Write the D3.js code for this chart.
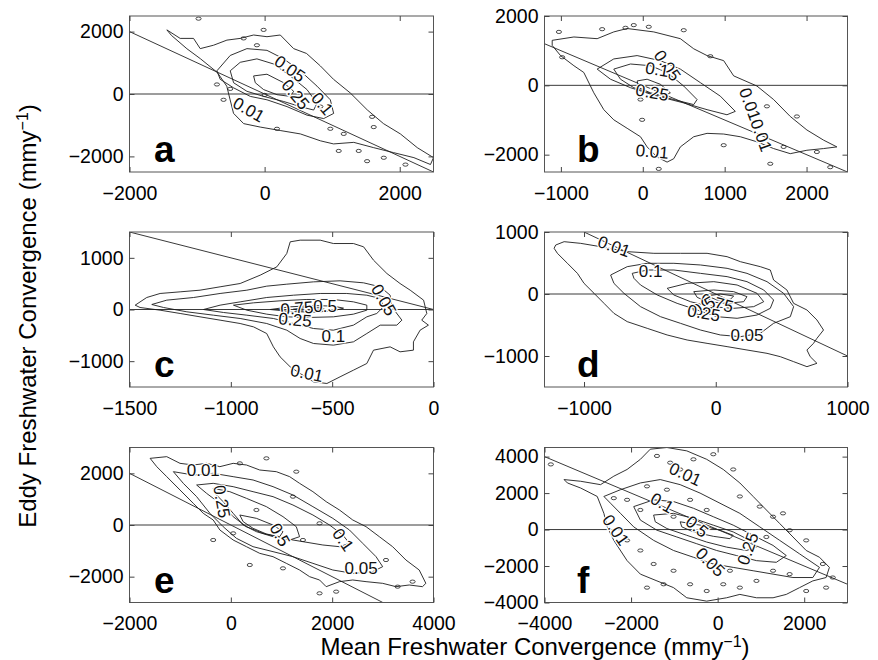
<html>
<head>
<meta charset="utf-8">
<script src="https://d3js.org/d3.v7.min.js"></script>
<style>
  body { margin: 0; background: #fff; }
  svg { font-family: "Liberation Sans", Arial, Helvetica, sans-serif; }
  .contour { fill: none; stroke: #1c1c1c; stroke-width: 0.9; }
  .speck { fill: none; stroke: #1c1c1c; stroke-width: 0.8; }
  .refline { stroke: #3a3a3a; stroke-width: 1; }
  .box { fill: none; stroke: #555; stroke-width: 1; }
  .clabel { font-size: 17px; fill: #111; stroke: #fff; stroke-width: 2.5px; paint-order: stroke; }
  .letter { font-size: 37px; font-weight: bold; fill: #000; }
  .axis text { font-size: 19.5px; fill: #000; font-family: "Liberation Sans", Arial, Helvetica, sans-serif; }
  .axis line { stroke: #444; }
  .title { font-size: 24px; fill: #000; }
</style>
</head>
<body>
<div id="chart"></div>
<script>
// ---- axis ranges and ticks (from the figure) ----
var xDomA = [-2000, 2500], yDomA = [-2500, 2500];
var xDomB = [-1200, 2500], yDomB = [-2500, 2000];
var xDomC = [-1500, 0],    yDomC = [-1500, 1500];
var xDomD = [-1300, 1000], yDomD = [-1500, 1000];
var xDomE = [-2000, 4000], yDomE = [-3000, 3000];
var xDomF = [-4000, 3000], yDomF = [-4000, 4500];

var xTicksA = [-2000, 0, 2000],            yTicksA = [-2000, 0, 2000];
var xTicksB = [-1000, 0, 1000, 2000],      yTicksB = [-2000, 0, 2000];
var xTicksC = [-1500, -1000, -500, 0],     yTicksC = [-1000, 0, 1000];
var xTicksD = [-1000, 0, 1000],            yTicksD = [-1000, 0, 1000];
var xTicksE = [-2000, 0, 2000, 4000],      yTicksE = [-2000, 0, 2000];
var xTicksF = [-4000, -2000, 0, 2000],     yTicksF = [-4000, -2000, 0, 2000, 4000];

// ---- contour rings (mean, eddy) in mm/y ----
var contoursA = [
  {level: "0.01", pts: [[-1447,2055],[-1250,1782],[-1052,1782],[-953,1454],[-756,1563],[-558,1727],[-361,1782],[-163,1891],[35,1836],[232,1891],[430,1454],[620,1300],[825,900],[1020,470],[1270,30],[1520,-510],[1760,-950],[2010,-1280],[2260,-1720],[2500,-2040],[2455,-2260],[2210,-2040],[1910,-1880],[1615,-1720],[1320,-1550],[1020,-1600],[825,-1500],[530,-1280],[230,-1170],[-65,-1060],[-310,-950],[-460,-620],[-510,-190],[-560,250],[-700,690],[-950,1130],[-1150,1450],[-1380,1880]]},
  {level: "0.05", pts: [[-706,743],[-509,1235],[-262,1454],[35,1399],[282,1126],[528,743],[776,251],[973,-186],[1022,-623],[874,-787],[627,-678],[331,-404],[35,-186],[-212,-77],[-459,197],[-657,470]]},
  {level: "0.1",  pts: [[-509,743],[-361,1016],[-114,1126],[133,962],[380,579],[627,142],[776,-295],[726,-514],[528,-404],[282,-240],[-15,-77],[-262,87],[-459,361]]},
  {level: "0.25", pts: [[-163,579],[35,634],[282,361],[430,87],[380,-77],[183,-22],[-15,142],[-138,361]]}
];
var contoursB = [
  {level: "0.01", pts: [[-1106,1298],[-841,1395],[-557,1346],[-354,1541],[-191,1639],[134,1541],[459,1346],[622,1054],[785,858],[988,712],[1110,273],[1394,-20],[1598,-410],[1801,-898],[2004,-1288],[2207,-1580],[2370,-1776],[2207,-1824],[2004,-1873],[1801,-1971],[1598,-1824],[1394,-1629],[1191,-1483],[988,-1405],[785,-1385],[622,-1483],[459,-1776],[378,-2117],[297,-2215],[175,-2068],[53,-1776],[-28,-1483],[-191,-1239],[-354,-995],[-476,-702],[-598,-215],[-720,371],[-841,566],[-1004,858],[-1106,1151]]},
  {level: "0.05", pts: [[-557,468],[-354,761],[-69,858],[215,712],[459,468],[703,78],[947,-312],[1130,-751],[1028,-849],[785,-702],[500,-507],[175,-312],[-150,-68],[-394,176]]},
  {level: "0.1",  pts: [[-354,468],[-150,615],[93,566],[297,371],[500,-20],[663,-410],[622,-556],[378,-410],[134,-263],[-110,-68],[-272,176]]},
  {level: "0.25", pts: [[-69,127],[53,176],[215,29],[337,-215],[256,-312],[93,-215],[-49,-68]]}
];
var contoursC = [
  {level: "0.01", pts: [[-1472,84],[-1415,232],[-1349,310],[-1250,342],[-1152,374],[-1053,439],[-954,503],[-855,665],[-773,826],[-724,1084],[-707,1310],[-658,1342],[-559,1342],[-494,1277],[-395,1277],[-345,1213],[-296,955],[-230,697],[-165,503],[-115,374],[-49,181],[-33,-77],[-58,-206],[-25,-303],[-66,-400],[-99,-626],[-99,-787],[-165,-819],[-214,-723],[-296,-787],[-329,-1045],[-395,-1174],[-461,-1303],[-526,-1432],[-592,-1400],[-658,-1239],[-707,-1110],[-757,-916],[-790,-723],[-823,-465],[-888,-336],[-954,-271],[-1053,-206],[-1152,-142],[-1250,-77],[-1349,-13],[-1448,39]]},
  {level: "0.05", pts: [[-1390,97],[-1316,181],[-1184,232],[-1053,310],[-921,374],[-823,452],[-724,490],[-592,535],[-461,555],[-345,516],[-263,439],[-214,277],[-206,52],[-156,-206],[-181,-303],[-263,-303],[-329,-465],[-395,-626],[-494,-690],[-592,-658],[-658,-561],[-724,-400],[-823,-271],[-954,-174],[-1086,-110],[-1217,-45],[-1332,39]]},
  {level: "0.1",  pts: [[-1135,0],[-1053,84],[-954,148],[-823,232],[-691,277],[-559,310],[-428,310],[-329,277],[-263,213],[-247,52],[-280,-77],[-329,-142],[-395,-303],[-494,-400],[-592,-368],[-691,-271],[-790,-174],[-921,-110],[-1036,-58]]},
  {level: "0.25", pts: [[-987,84],[-888,129],[-757,168],[-625,194],[-494,194],[-395,148],[-329,84],[-329,-13],[-395,-90],[-494,-142],[-625,-155],[-724,-142],[-823,-90],[-921,-13]]},
  {level: "0.5",  pts: [[-806,0],[-707,52],[-592,77],[-494,65],[-444,26],[-494,-26],[-592,-52],[-707,-39]]},
  {level: "0.75", pts: [[-691,6],[-625,39],[-559,32],[-535,0],[-576,-26],[-658,-26]]}
];
var contoursD = [
  {level: "0.01", pts: [[-1215,790],[-1151,844],[-1025,817],[-874,763],[-672,683],[-470,656],[-268,656],[-66,656],[86,602],[187,521],[338,441],[414,387],[439,226],[540,65],[591,-151],[692,-258],[768,-419],[818,-581],[768,-715],[742,-796],[692,-903],[717,-1011],[768,-1118],[692,-1172],[591,-1091],[490,-1011],[389,-957],[237,-903],[86,-849],[-66,-796],[-217,-742],[-369,-661],[-520,-554],[-672,-446],[-773,-312],[-848,-151],[-924,11],[-1000,172],[-1050,333],[-1126,495],[-1202,656],[-1227,737]]},
  {level: "0.05", pts: [[-798,306],[-672,441],[-520,495],[-318,495],[-116,468],[86,414],[237,333],[389,199],[515,11],[591,-204],[566,-366],[439,-473],[338,-634],[187,-688],[35,-661],[-116,-581],[-268,-473],[-419,-366],[-571,-204],[-697,11],[-773,172]]},
  {level: "0.1",  pts: [[-634,333],[-520,387],[-318,387],[-116,333],[86,280],[237,199],[364,65],[439,-97],[414,-231],[313,-339],[162,-392],[10,-366],[-141,-258],[-293,-151],[-444,-16],[-571,145],[-621,253]]},
  {level: "0.25", pts: [[-369,91],[-217,172],[-15,199],[162,145],[313,11],[364,-124],[288,-204],[136,-231],[-40,-204],[-192,-124],[-318,-16]]},
  {level: "0.5",  pts: [[-167,38],[-15,65],[136,38],[237,-43],[212,-124],[86,-151],[-66,-124],[-141,-54]]},
  {level: "0.75", pts: [[-66,-32],[35,0],[136,-32],[111,-86],[10,-97]]}
];
var contoursE = [
  {level: "0.01", pts: [[-1593,2580],[-1265,2645],[-1003,2387],[-741,2322],[-479,2387],[-216,2258],[46,2387],[308,2322],[570,2129],[898,2064],[1161,1871],[1357,1613],[1620,1290],[1882,903],[2144,581],[2406,194],[2669,-65],[2931,-452],[3193,-839],[3456,-1355],[3718,-1742],[3849,-2258],[3783,-2387],[3521,-2322],[3259,-2387],[2997,-2258],[2669,-2193],[2406,-2129],[2144,-2193],[1882,-2387],[1751,-2129],[1554,-2000],[1357,-1742],[1095,-1484],[833,-1226],[570,-1097],[308,-839],[46,-581],[-216,-194],[-348,194],[-544,452],[-741,839],[-1003,1355],[-1265,1871],[-1462,2258]]},
  {level: "0.05", pts: [[-1134,2064],[-741,1935],[-348,2000],[46,1871],[439,1742],[833,1484],[1226,1161],[1620,710],[2013,258],[2341,-194],[2603,-710],[2866,-1226],[2997,-1613],[2800,-1806],[2406,-1871],[2013,-1742],[1620,-1484],[1226,-1226],[833,-1032],[439,-839],[111,-516],[-151,-65],[-413,452],[-675,1097],[-938,1613]]},
  {level: "0.1",  pts: [[-675,1548],[-348,1613],[46,1484],[439,1290],[833,1097],[1226,774],[1620,387],[1948,0],[2210,-387],[2341,-710],[2144,-839],[1816,-774],[1423,-645],[1029,-516],[636,-323],[308,-65],[46,323],[-216,839],[-479,1226]]},
  {level: "0.25", pts: [[-348,1419],[-20,1290],[308,1032],[702,710],[1029,323],[1292,-65],[1357,-452],[1161,-581],[833,-452],[505,-258],[243,0],[46,452],[-151,903],[-315,1226]]},
  {level: "0.5",  pts: [[177,387],[505,258],[833,0],[1029,-258],[964,-452],[702,-348],[439,-129],[243,129]]}
];
var contoursF = [
  {level: "0.01", pts: [[-3548,2741],[-3165,2648],[-2705,2463],[-2399,2926],[-2092,3296],[-1785,3852],[-1556,4407],[-1172,4500],[-713,4315],[-253,3852],[130,3296],[513,2556],[820,1815],[1126,1074],[1433,333],[1740,-407],[2046,-1148],[2353,-1519],[2582,-2074],[2506,-2630],[2199,-2815],[1893,-3185],[1586,-3556],[1280,-3741],[897,-3741],[513,-3556],[207,-3741],[-253,-3926],[-713,-3741],[-1019,-3185],[-1402,-2815],[-1785,-2444],[-2092,-1704],[-2399,-593],[-2552,148],[-2628,889],[-2782,1815],[-3165,2278],[-3471,2556]]},
  {level: "0.05", pts: [[-2628,1815],[-2245,2185],[-1785,2556],[-1326,2741],[-866,2463],[-406,2000],[54,1444],[513,889],[973,148],[1433,-593],[1893,-1333],[2353,-2074],[2199,-2630],[1740,-2630],[1280,-2444],[820,-2259],[360,-2074],[-100,-1889],[-559,-1519],[-1019,-1148],[-1479,-593],[-1939,148],[-2245,889],[-2475,1444]]},
  {level: "0.1",  pts: [[-1939,1259],[-1479,1630],[-1019,1537],[-559,1167],[-100,704],[360,241],[820,-315],[1280,-870],[1586,-1426],[1356,-1796],[897,-1704],[437,-1426],[-23,-1148],[-483,-778],[-943,-407],[-1402,-37],[-1785,519]]},
  {level: "0.25", pts: [[-1479,796],[-1019,889],[-559,611],[-100,241],[360,-130],[743,-593],[897,-963],[667,-1148],[207,-963],[-253,-685],[-713,-315],[-1172,56],[-1441,426]]},
  {level: "0.5",  pts: [[-866,426],[-406,241],[54,-37],[360,-315],[283,-500],[-100,-370],[-559,-130],[-828,148]]}
];

// ---- small isolated contour loops ----
var specksA = [[-978,2415],[-15,2055],[-311,1782],[-114,1563],[-706,306],[-509,164],[-608,-186],[183,-1115],[973,-1115],[1171,-1279],[1591,-732],[1393,-1825],[1517,-2153],[1764,-2044],[2085,-2263],[1097,-1825],[1615,-1060],[825,-404],[0,-30]];
var specksB = [[-1024,1541],[-496,1620],[-110,1737],[73,1688],[500,1590],[825,839],[-984,810],[-28,-410],[-8,-995],[1516,-605],[1882,-898],[988,-1727],[1720,-1776],[2126,-1922],[1557,-2263],[2289,-2361],[195,-2410],[-211,1659]];
var specksC = [];
var specksD = [];
var specksE = [[702,2580],[1292,2064],[177,2387],[-348,-581],[46,-323],[374,-1548],[1029,-1677],[1751,-2645],[2079,-2580],[3062,-1355],[3292,-2387],[3587,-2193],[505,581],[1226,1097],[1751,65],[1423,-581]];
var specksF = [[-1402,4037],[-1096,3667],[-559,3852],[-100,4130],[-2092,1630],[-2399,1722],[-1785,1074],[-1019,704],[-636,1630],[-253,1074],[513,1815],[973,1259],[1280,704],[1663,-37],[2046,-593],[2430,-1889],[1280,-2259],[897,-2815],[513,-3185],[130,-3000],[-253,-3370],[-636,-3000],[-1019,-2259],[-1479,-1889],[-1785,-1148],[-2092,-593],[1663,-2444],[2046,-3370],[2506,-3185],[2659,-2630],[-1249,-3000],[-1632,-3185],[284,-2259],[667,-1519],[1126,-407],[1510,889],[-866,3296],[-1172,2185],[-1632,2370],[360,3296],[-3854,3574]];

// ---- contour labels: [mean, eddy, text, angle] ----
var labelsA = [[370,798,"0.05",35],[454,-22,"0.25",50],[850,-317,"0.1",50],[-237,-514,"0.01",30]];
var labelsB = [[297,566,"0.05",55],[175,449,"0.1",10],[114,-215,"0.25",10],[1374,-995,"0.010.01",70],[114,-1922,"0.01",5]];
var labelsC = [[-247,181,"0.05",60],[-674,19,"0.75",-5],[-535,52,"0.5",0],[-683,-206,"0.25",5],[-494,-516,"0.1",0],[-625,-1239,"0.01",12]];
var labelsD = [[-773,763,"0.01",20],[-495,360,"0.1",0],[10,-151,"0.75",15],[-91,-204,"0.5",-30],[-91,-312,"0.25",10],[237,-677,"0.05",0]];
var labelsE = [[-544,2129,"0.01",0],[-184,903,"0.25",80],[964,-387,"0.5",60],[2210,-581,"0.1",55],[2570,-1677,"0.05",0]];
var labelsF = [[-751,3019,"0.01",25],[-1287,1444,"0.1",30],[-483,148,"0.5",40],[705,-1056,"0.25",-70],[-176,-1796,"0.05",45],[-2360,-37,"0.01",55]];

var letters = ["a", "b", "c", "d", "e", "f"];

// ---- layout ----
var width = 878, height = 660;
var colLeft = [129.5, 544.5], colWidth = [304, 303], letterX = [154, 577];
var rowTop = [16, 232, 447.5], rowHeight = [156, 155, 155];

var panels = [
  {xDom: xDomA, yDom: yDomA, xTicks: xTicksA, yTicks: yTicksA, contours: contoursA, specks: specksA, labels: labelsA},
  {xDom: xDomB, yDom: yDomB, xTicks: xTicksB, yTicks: yTicksB, contours: contoursB, specks: specksB, labels: labelsB},
  {xDom: xDomC, yDom: yDomC, xTicks: xTicksC, yTicks: yTicksC, contours: contoursC, specks: specksC, labels: labelsC},
  {xDom: xDomD, yDom: yDomD, xTicks: xTicksD, yTicks: yTicksD, contours: contoursD, specks: specksD, labels: labelsD},
  {xDom: xDomE, yDom: yDomE, xTicks: xTicksE, yTicks: yTicksE, contours: contoursE, specks: specksE, labels: labelsE},
  {xDom: xDomF, yDom: yDomF, xTicks: xTicksF, yTicks: yTicksF, contours: contoursF, specks: specksF, labels: labelsF}
];

var svg = d3.select("#chart").append("svg")
  .attr("width", width)
  .attr("height", height)
  .style("background", "#fff");

var fmt = d3.format("d");

panels.forEach(function(p, i) {
  var col = i % 2, row = Math.floor(i / 2);
  var x0 = colLeft[col], w = colWidth[col], y0 = rowTop[row], h = rowHeight[row];

  var xScale = d3.scaleLinear().domain(p.xDom).range([x0, x0 + w]);
  var yScale = d3.scaleLinear().domain(p.yDom).range([y0 + h, y0]);

  var g = svg.append("g").attr("class", "panel");

  svg.append("clipPath").attr("id", "clip" + i)
    .append("rect").attr("x", x0).attr("y", y0).attr("width", w).attr("height", h);

  var plot = g.append("g").attr("clip-path", "url(#clip" + i + ")");

  /* zero line */
  plot.append("line").attr("class", "refline")
    .attr("x1", x0).attr("x2", x0 + w)
    .attr("y1", yScale(0)).attr("y2", yScale(0));

  /* eddy = -mean line */
  var xs = Math.max(p.xDom[0], -p.yDom[1]), xe = Math.min(p.xDom[1], -p.yDom[0]);
  plot.append("line").attr("class", "refline")
    .attr("x1", xScale(xs)).attr("y1", yScale(-xs))
    .attr("x2", xScale(xe)).attr("y2", yScale(-xe));

  /* contours */
  var line = d3.line()
    .x(function(d) { return xScale(d[0]); })
    .y(function(d) { return yScale(d[1]); })
    .curve(d3.curveLinearClosed);

  plot.selectAll(".contour").data(p.contours).enter()
    .append("path").attr("class", "contour")
    .attr("d", function(d) { return line(d.pts); });

  plot.selectAll(".speck").data(p.specks).enter()
    .append("ellipse").attr("class", "speck")
    .attr("cx", function(d) { return xScale(d[0]); })
    .attr("cy", function(d) { return yScale(d[1]); })
    .attr("rx", 2.6).attr("ry", 1.6);

  plot.selectAll(".clabel").data(p.labels).enter()
    .append("text").attr("class", "clabel")
    .attr("text-anchor", "middle")
    .attr("dominant-baseline", "central")
    .attr("transform", function(d) {
      return "translate(" + xScale(d[0]) + "," + yScale(d[1]) + ") rotate(" + d[3] + ")";
    })
    .text(function(d) { return d[2]; });

  /* box */
  g.append("rect").attr("class", "box")
    .attr("x", x0).attr("y", y0).attr("width", w).attr("height", h);

  /* axes, ticks pointing inward on all sides */
  var axB = d3.axisBottom(xScale).tickValues(p.xTicks).tickFormat(fmt).tickSizeInner(-5).tickSizeOuter(0).tickPadding(14);
  var axT = d3.axisTop(xScale).tickValues(p.xTicks).tickFormat("").tickSizeInner(-5).tickSizeOuter(0);
  var axL = d3.axisLeft(yScale).tickValues(p.yTicks).tickFormat(fmt).tickSizeInner(-5).tickSizeOuter(0).tickPadding(6);
  var axR = d3.axisRight(yScale).tickValues(p.yTicks).tickFormat("").tickSizeInner(-5).tickSizeOuter(0);

  g.append("g").attr("class", "axis").attr("transform", "translate(0," + (y0 + h) + ")").call(axB);
  g.append("g").attr("class", "axis").attr("transform", "translate(0," + y0 + ")").call(axT);
  g.append("g").attr("class", "axis").attr("transform", "translate(" + x0 + ",0)").call(axL);
  g.append("g").attr("class", "axis").attr("transform", "translate(" + (x0 + w) + ",0)").call(axR);
  g.selectAll(".axis .domain").remove();
  g.selectAll(".axis").attr("font-size", null).attr("font-family", null);

  /* panel letter */
  g.append("text").attr("class", "letter")
    .attr("x", letterX[col]).attr("y", y0 + h - 10)
    .text(letters[i]);
});

/* axis titles */
var yt = svg.append("text").attr("class", "title")
  .attr("text-anchor", "middle")
  .attr("transform", "translate(36,316) rotate(-90)");
yt.append("tspan").text("Eddy Freshwater Convergence (mmy");
yt.append("tspan").attr("baseline-shift", "super").attr("font-size", "16px").text("\u22121");
yt.append("tspan").text(")");

var xt = svg.append("text").attr("class", "title")
  .attr("text-anchor", "middle")
  .attr("x", 535).attr("y", 655);
xt.append("tspan").text("Mean Freshwater Convergence (mmy");
xt.append("tspan").attr("baseline-shift", "super").attr("font-size", "16px").text("\u22121");
xt.append("tspan").text(")");
</script>
</body>
</html>
